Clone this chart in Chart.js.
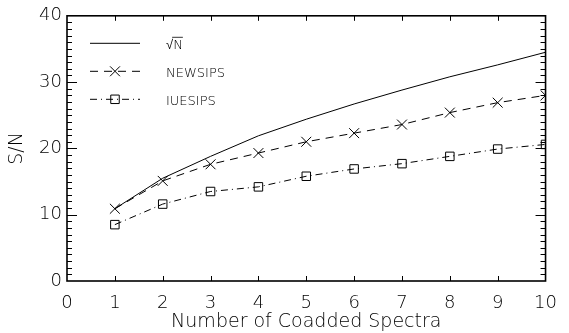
<!DOCTYPE html>
<html>
<head>
<meta charset="utf-8">
<script src="https://cdn.jsdelivr.net/npm/chart.js@4/dist/chart.umd.min.js"></script>
<style>
html, body { margin: 0; padding: 0; background: #fff; }
#wrap { width: 569px; height: 333px; }
</style>
</head>
<body>
<div id="wrap"><canvas id="snr_chart"></canvas></div>
<script>
// S/N against number of coadded spectra
const spectra_counts = [1, 2, 3, 4, 5, 6, 7, 8, 9, 10];
const sqrt_n_values  = [10.9, 15.5, 18.8, 21.9, 24.4, 26.7, 28.8, 30.8, 32.6, 34.5];
const newsips_values = [10.9, 15.1, 17.6, 19.3, 21.0, 22.3, 23.6, 25.4, 26.9, 28.0];
const iuesips_values = [8.5, 11.6, 13.5, 14.2, 15.8, 16.9, 17.7, 18.8, 19.9, 20.6];
const series_labels  = ["√N", "NEWSIPS", "IUESIPS"];

// thin DejaVu face for all text
const FONT = "'DejaVu Sans', sans-serif";
const WEIGHT = 200;

function toPoints(values){
	return spectra_counts.map((n, i) => ({ x: n, y: values[i] }));
}

// box round the plot with inward ticks on all four sides
const frameTicks = {
	id: 'frameTicks',
	afterDatasetsDraw(chart){
		const ctx = chart.ctx;
		const a = chart.chartArea;
		const xs = chart.scales.x, ys = chart.scales.y;
		ctx.save();
		ctx.strokeStyle = '#000';
		ctx.lineWidth = 1;
		ctx.beginPath();
		for (let v = 1; v < 10; v++) {
			const px = Math.round(xs.getPixelForValue(v)) + 0.5;
			ctx.moveTo(px, a.bottom); ctx.lineTo(px, a.bottom - 5);
			ctx.moveTo(px, a.top); ctx.lineTo(px, a.top + 5);
		}
		for (let v = 1; v < 40; v++) {
			const py = Math.round(ys.getPixelForValue(v)) + 0.5;
			const len = v % 10 === 0 ? 10 : 5;
			ctx.moveTo(a.left, py); ctx.lineTo(a.left + len, py);
			ctx.moveTo(a.right, py); ctx.lineTo(a.right - len, py);
		}
		ctx.stroke();
		ctx.lineWidth = 1.6;
		ctx.strokeRect(a.left, a.top, a.right - a.left, a.bottom - a.top);
		ctx.restore();
	}
};

// legend in the upper left corner of the plot
const cornerLegend = {
	id: 'cornerLegend',
	afterDraw(chart){
		const ctx = chart.ctx;
		const a = chart.chartArea;
		const x0 = a.left + 23, x1 = a.left + 73, xm = a.left + 48, xt = a.left + 99;
		const rows = [a.top + 27, a.top + 55, a.top + 83];
		chart.data.datasets.forEach((ds, i) => {
			const y = rows[i] + 0.5;
			ctx.save();
			ctx.strokeStyle = ds.borderColor;
			ctx.lineWidth = ds.borderWidth;
			ctx.setLineDash(ds.borderDash || []);
			ctx.beginPath();
			ctx.moveTo(x0, y); ctx.lineTo(x1, y);
			ctx.stroke();
			ctx.setLineDash([]);
			if (ds.pointRadius > 0) {
				ctx.fillStyle = 'rgba(0,0,0,0)';
				ctx.lineWidth = ds.pointBorderWidth;
				Chart.helpers.drawPoint(ctx, { pointStyle: ds.pointStyle, radius: ds.pointRadius, borderWidth: ds.pointBorderWidth, rotation: 0 }, xm, y);
			}
			ctx.fillStyle = '#000';
			ctx.font = `${WEIGHT} 13px ${FONT}`;
			ctx.textBaseline = 'middle';
			ctx.fillText(ds.label, xt, y + 2);
			if (ds.label.startsWith('√')) {
				// radical bar over N
				const w0 = ctx.measureText('√').width;
				const w1 = ctx.measureText(ds.label).width;
				ctx.lineWidth = 0.8;
				ctx.beginPath();
				ctx.moveTo(xt + w0 - 1, y - 6); ctx.lineTo(xt + w1, y - 6);
				ctx.stroke();
			}
			ctx.restore();
		});
	}
};

const chart = document.getElementById('snr_chart').getContext('2d');

new Chart(chart, {
	type: 'line',
	data: {
		datasets: [
			{
				label: series_labels[0],
				data: toPoints(sqrt_n_values),
				borderColor: '#000',
				borderWidth: 1,
				pointRadius: 0,
				tension: 0,
				fill: false,
			},
			{
				label: series_labels[1],
				data: toPoints(newsips_values),
				borderColor: '#000',
				borderWidth: 1,
				borderDash: [8, 6],
				pointStyle: 'crossRot',
				pointRadius: 7,
				pointBorderWidth: 1,
				pointBorderColor: '#000',
				pointBackgroundColor: 'rgba(0,0,0,0)',
				tension: 0,
				fill: false,
			},
			{
				label: series_labels[2],
				data: toPoints(iuesips_values),
				borderColor: '#000',
				borderWidth: 1,
				borderDash: [7, 4, 1, 4],
				pointStyle: 'rect',
				pointRadius: 6,
				pointBorderWidth: 1,
				pointBorderColor: '#000',
				pointBackgroundColor: 'rgba(0,0,0,0)',
				tension: 0,
				fill: false,
			}
		]
	},
	options: {
		responsive: true,
		maintainAspectRatio: false,
		animation: false,
		events: [],
		layout: { padding: { left: 0, right: 12, top: 12, bottom: 0 } },
		plugins: {
			legend: { display: false },
			tooltip: { enabled: false },
		},
		scales: {
			x: {
				type: 'linear',
				min: 0,
				max: 10,
				afterFit(s){ s.height = 52; },
				grid: { display: false, drawTicks: false },
				border: { display: false },
				ticks: { stepSize: 1, padding: 12, color: '#000', maxRotation: 0, autoSkip: false, font: { family: FONT, weight: WEIGHT, size: 18 } },
				title: { display: true, text: 'Number of Coadded Spectra', color: '#000', padding: 0, font: { family: FONT, weight: WEIGHT, size: 19 } },
			},
			y: {
				min: 0,
				max: 40,
				afterFit(s){ s.width = 67; },
				grid: { display: false, drawTicks: false },
				border: { display: false },
				ticks: { stepSize: 10, padding: 5, color: '#000', font: { family: FONT, weight: WEIGHT, size: 18 } },
				title: { display: true, text: 'S/N', color: '#000', padding: { top: 6, bottom: 0 }, font: { family: FONT, weight: WEIGHT, size: 19 } },
			}
		}
	},
	plugins: [frameTicks, cornerLegend]
});
</script>
</body>
</html>
